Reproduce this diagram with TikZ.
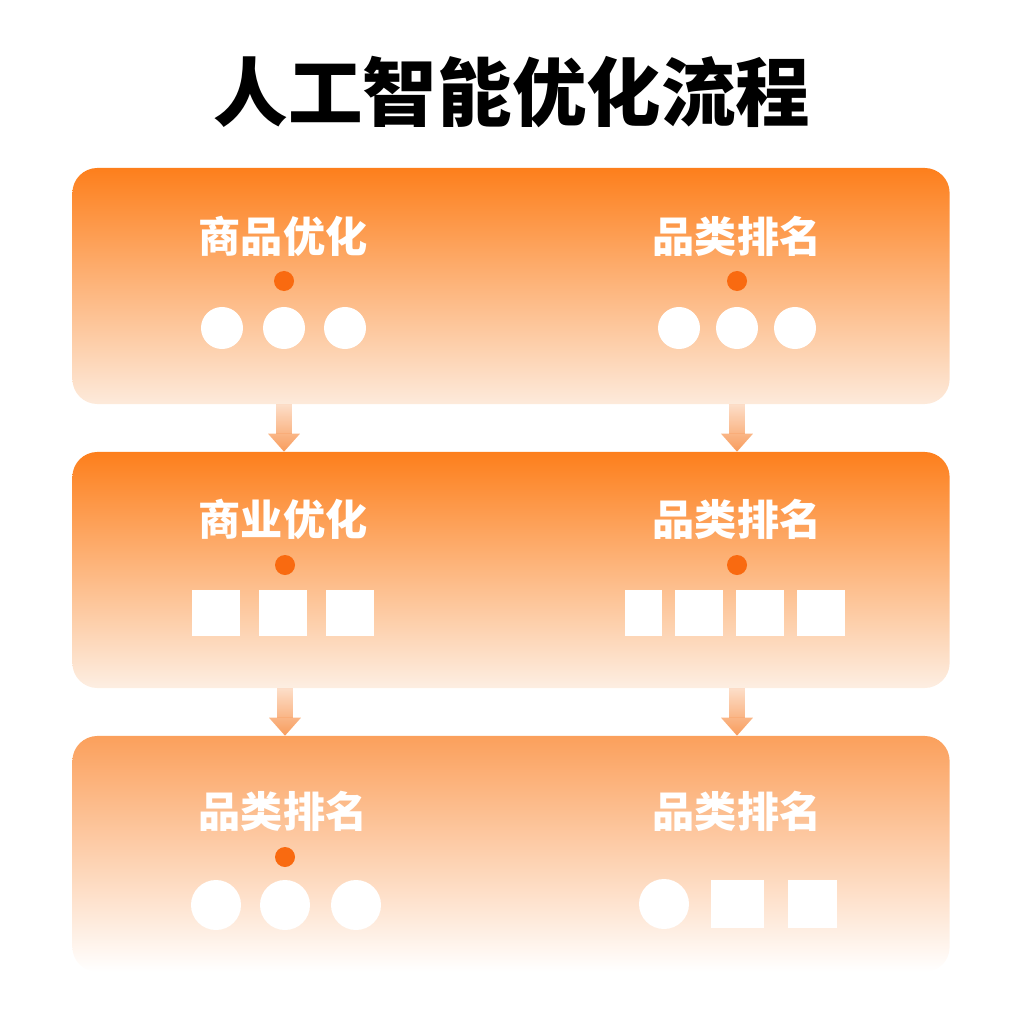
\documentclass[tikz,border=0pt]{standalone}
\usepackage{fontspec}
\newfontfamily\cjkblack{Noto Sans CJK SC Black}
\usepackage{tikz}
\usetikzlibrary{arrows.meta,positioning,fadings}

\definecolor{deeporange}{HTML}{FD7F1C}
\definecolor{paleorange}{HTML}{FDEADB}
\definecolor{softorange}{HTML}{FBA05C}
\definecolor{dotorange}{HTML}{F96A10}
\definecolor{arroworange}{HTML}{F7914A}

\tikzfading[name=arrowfade, top color=transparent!80, bottom color=transparent!0]

\tikzset{
  panel/.style={rectangle,rounded corners=0.625cm,minimum width=21.925cm,minimum height=5.9cm,draw=none},
  heading/.style={text=white,font=\cjkblack\fontsize{30}{34}\selectfont},
  marker/.style={circle,fill=dotorange,minimum size=0.5cm},
  bubble/.style={circle,fill=white,minimum size=1.05cm},
  bigbubble/.style={circle,fill=white,minimum size=1.25cm},
  tile/.style={rectangle,fill=white,minimum width=1.2cm,minimum height=1.15cm},
  flow/.style={line width=0.4cm,draw=arroworange,path fading=arrowfade,
    -{Triangle[width=0.8cm,length=0.45cm,line width=0pt]}}
}

\begin{document}
\begin{tikzpicture}[x=0.025cm,y=-0.025cm]
\useasboundingbox (0,0) rectangle (1024,1024);

\begin{scope}[every node/.style={inner sep=0pt}]
	\node[font=\cjkblack\fontsize{53}{60}\selectfont] (title) at (512,92) {人工智能优化流程};

	% panels
	\node[panel,top color=deeporange,bottom color=paleorange] (stage1) at (511,286) {};
	\node[panel,top color=deeporange,bottom color=paleorange!80!white] (stage2) at (511,570) {};
	\node[panel,top color=softorange,bottom color=white] (stage3) at (511,854) {};

	% stage 1
	\node[heading] (goods) at (283,236) {商品优化};
	\node[marker] (goodsdot) at (284,281) {};
	\node[bubble] at (222,328) {};
	\node[bubble] at (284,328) {};
	\node[bubble] at (345,328) {};

	\node[heading] (rankA) at (737,236) {品类排名};
	\node[marker] (rankAdot) at (737,281) {};
	\node[bubble] at (679,328) {};
	\node[bubble] at (737,328) {};
	\node[bubble] at (795,328) {};

	% stage 2
	\node[heading] (business) at (283,519) {商业优化};
	\node[marker] (businessdot) at (285,565) {};
	\node[tile] at (216,613) {};
	\node[tile] at (283,613) {};
	\node[tile] at (350,613) {};

	\node[heading] (rankB) at (737,519) {品类排名};
	\node[marker] (rankBdot) at (737,565) {};
	\node[tile,minimum width=0.925cm] at (643,613) {};
	\node[tile] at (699,613) {};
	\node[tile] at (760,613) {};
	\node[tile] at (821,613) {};

	% stage 3
	\node[heading] (rankC) at (283,811) {品类排名};
	\node[marker] (rankCdot) at (285,857) {};
	\node[bigbubble] at (216,905) {};
	\node[bigbubble] at (285,905) {};
	\node[bigbubble] at (356,905) {};

	\node[heading] (rankD) at (737,811) {品类排名};
	\node[bigbubble] at (664,904) {};
	\node[tile,minimum width=1.325cm,minimum height=1.2cm] at (737,904) {};
	\node[tile,minimum width=1.225cm,minimum height=1.2cm] at (812,904) {};
\end{scope}

\begin{scope}
	\draw[flow] (stage1.south -| goodsdot) -- (stage2.north -| goodsdot);
	\draw[flow] (stage1.south -| rankAdot) -- (stage2.north -| rankAdot);
	\draw[flow] (stage2.south -| businessdot) -- (stage3.north -| businessdot);
	\draw[flow] (stage2.south -| rankBdot) -- (stage3.north -| rankBdot);
\end{scope}

\end{tikzpicture}
\end{document}
